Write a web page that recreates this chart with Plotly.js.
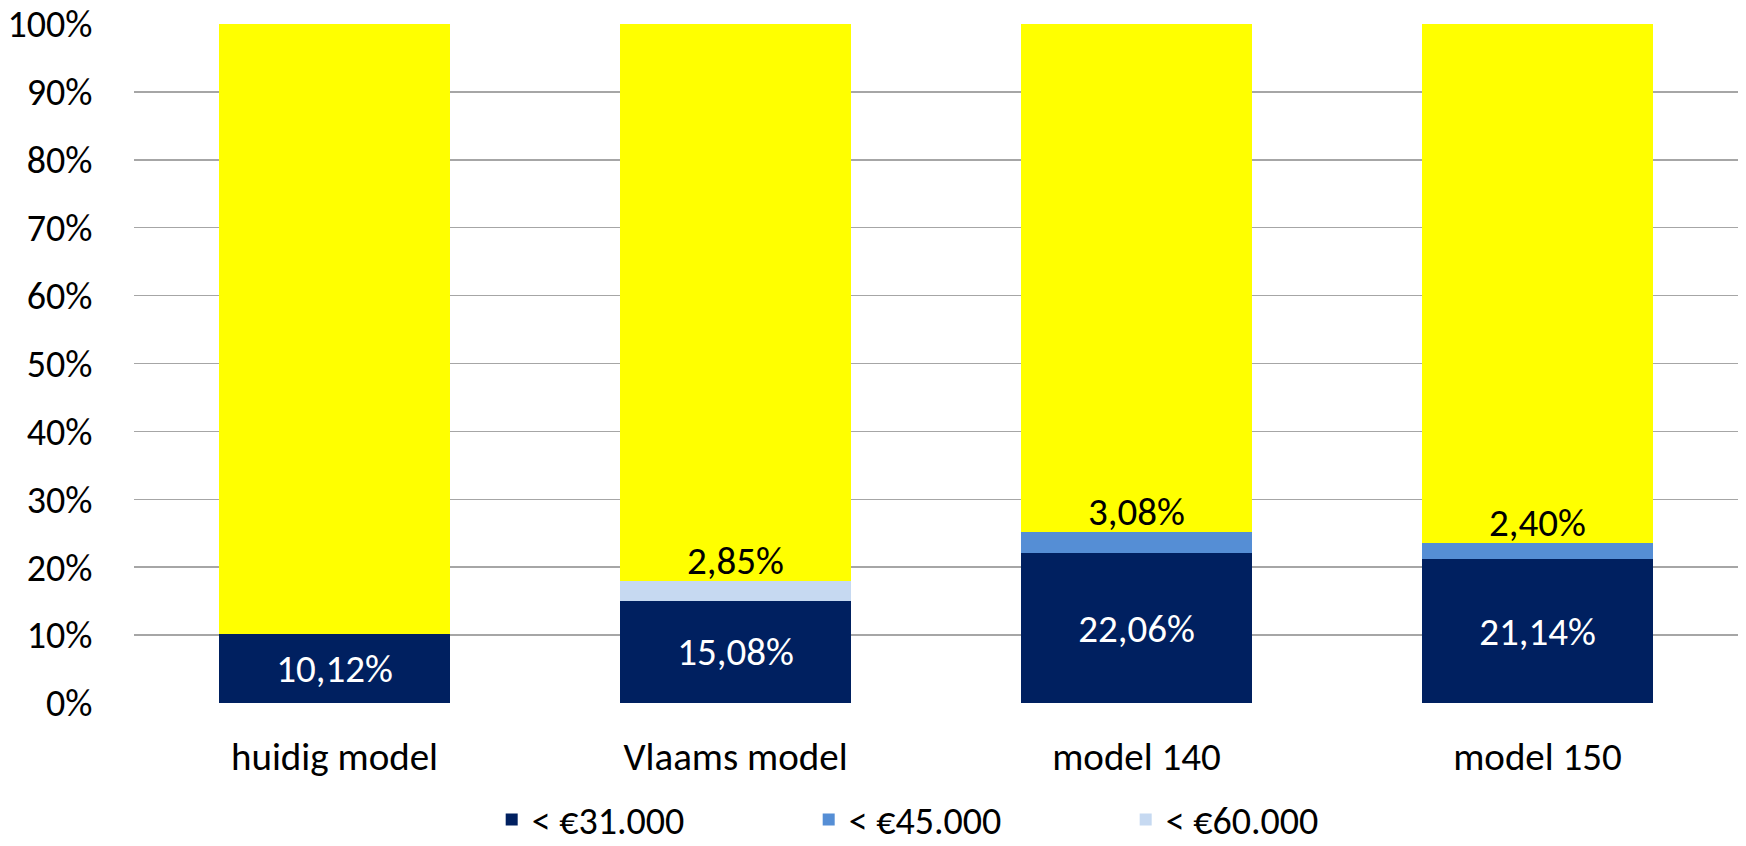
<!DOCTYPE html>
<html>
<head>
<meta charset="utf-8">
<script src="https://cdn.plot.ly/plotly-3.0.1.min.js"></script>
<style>
  html, body { margin: 0; padding: 0; background: #ffffff; }
  #chart { width: 1746px; height: 846px; }
</style>
</head>
<body>
<div id="chart"></div>
<script>
// ---- data ----
const categories = ["huidig model", "Vlaams model", "model 140", "model 150"];
const below31 = [10.12, 15.08, 22.06, 21.14];        // < €31.000
const below45 = [null, null, 3.08, 2.40];             // < €45.000
const below60 = [null, 2.85, null, null];             // < €60.000
const rest    = [89.88, 82.07, 74.86, 76.46];         // remainder (yellow)
const seriesNames = ["< €31.000", "< €45.000", "< €60.000"];
const yTicks = [0, 10, 20, 30, 40, 50, 60, 70, 80, 90, 100];
const yTickLabels = ["0%", "10%", "20%", "30%", "40%", "50%", "60%", "70%", "80%", "90%", "100%"];

const FONT = "Carlito, Calibri, Lato, 'Open Sans', sans-serif";
const colors = { navy: "#002060", mid: "#558ED5", light: "#C6D9F1", yellow: "#FFFF00" };

const traces = [
  {
    type: "bar", name: seriesNames[0], x: categories, y: below31,
    marker: { color: colors.navy },
    texttemplate: "%{y:.2f}%", textposition: "inside", insidetextanchor: "middle",
    textfont: { color: "#ffffff", size: 39, family: FONT },
    constraintext: "none", hoverinfo: "skip"
  },
  {
    type: "bar", name: seriesNames[1], x: categories, y: below45,
    marker: { color: colors.mid }, hoverinfo: "skip", textposition: "none"
  },
  {
    type: "bar", name: seriesNames[2], x: categories, y: below60,
    marker: { color: colors.light }, hoverinfo: "skip", textposition: "none"
  },
  {
    type: "bar", name: "rest", x: categories, y: rest, showlegend: false,
    marker: { color: colors.yellow }, hoverinfo: "skip", textposition: "none"
  }
];

// labels for the small middle segments, placed just above them
const annotations = [];
categories.forEach((c, i) => {
  const seg = below45[i] != null ? below45[i] : below60[i];
  if (seg != null) {
    annotations.push({
      x: c, y: below31[i] + seg, xref: "x", yref: "y",
      yanchor: "bottom", xanchor: "center", showarrow: false,
      text: seg.toFixed(2).replace(".", ",") + "%",
      font: { color: "#000000", size: 39, family: FONT },
      yshift: -5
    });
  }
});

const layout = {
  width: 1746, height: 846,
  paper_bgcolor: "#ffffff", plot_bgcolor: "#ffffff",
  margin: { l: 134, r: 8, t: 24, b: 143 },
  barmode: "stack", bargap: 0.426,
  separators: ",.",
  font: { family: FONT, color: "#000000", size: 39 },
  showlegend: true,
  xaxis: {
    type: "category", showgrid: false, zeroline: false, showline: false,
    ticks: "outside", ticklen: 19, tickcolor: "rgba(0,0,0,0)",
    tickfont: { size: 39, family: FONT, color: "#000000" }
  },
  yaxis: {
    range: [0, 100], tickvals: yTicks, ticktext: yTickLabels,
    showgrid: true, gridcolor: "#a6a6a6", gridwidth: 1.5,
    zeroline: false, showline: false,
    ticks: "outside", ticklen: 33, tickcolor: "rgba(0,0,0,0)",
    tickfont: { size: 38, family: FONT, color: "#000000" }
  },
  legend: {
    orientation: "h", xref: "paper", yref: "container",
    x: 0.223, xanchor: "left", y: 0.031, yanchor: "middle",
    entrywidth: 272, entrywidthmode: "pixels",
    font: { size: 38, family: FONT, color: "#000000" },
    bgcolor: "rgba(0,0,0,0)",
    traceorder: "normal", itemclick: false, itemdoubleclick: false
  },
  annotations: annotations
};

Plotly.newPlot("chart", traces, layout, { staticPlot: true, displayModeBar: false });
</script>
</body>
</html>
